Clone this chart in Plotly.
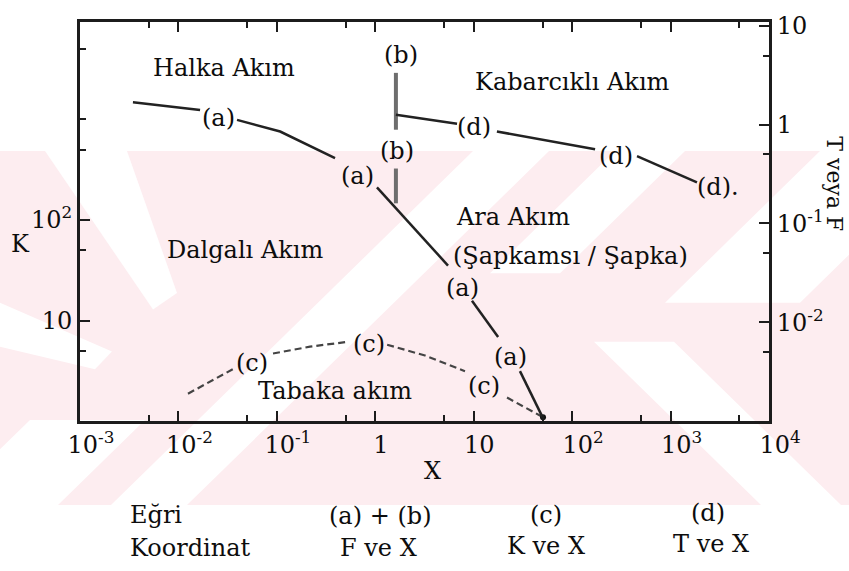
import numpy as np
import plotly.graph_objects as go

FONT = "DejaVu Serif"

# ---- boundary curves (None separates the pieces interrupted by the curve labels) ----
# (a) F vs X : stratified / annular & intermittent boundary
xa = [0.00345, 0.0166, None, 0.0394, 0.108, 0.39, None, 1.04, 5.48, None, 9.6, 17.7, None, 29.5, 50.6]
fa = [1.69, 1.41, None, 1.12, 0.853, 0.46, None, 0.232, 0.0375, None, 0.0165, 0.0071, None, 0.0032, 0.00107]

# (b) F vs X : vertical annular / intermittent boundary
xb = [1.62, 1.62, None, 1.62, 1.62]
fb = [3.35, 0.89, None, 0.36, 0.16]

# (c) K vs X : stratified smooth / stratified wavy boundary
xc = [0.0125, 0.0358, None, 0.0914, 0.217, 0.528, None, 1.32, 3.2, 8.15, None, 21.8, 50.6]
kc = [1.87, 3.28, None, 4.69, 5.49, 6.14, None, 5.74, 4.48, 3.13, None, 1.71, 1.09]

# (d) T vs X : intermittent / dispersed bubble boundary
xd = [1.62, 6.77, None, 17.2, 171, None, 456, 1855]
td = [1.26, 1.02, None, 0.853, 0.565, None, 0.482, 0.261]

# curve labels (X, value on the curve's own axis)
lab_a_x = [0.0258, 0.652, 7.78, 23.4]
lab_a_y = [1.17, 0.305, 0.0222, 0.0044]
lab_b_x = [1.82, 1.66]
lab_b_y = [5.05, 0.54]
lab_c_x = [0.0559, 0.863, 12.7]
lab_c_y = [3.75, 5.87, 2.24]
lab_d_x = [10.1, 279, 2761]
lab_d_y = [0.955, 0.482, 0.232]

# axis ticks
x_ticks = [1e-3, 1e-2, 1e-1, 1, 10, 1e2, 1e3, 1e4]
x_text = ["10<sup>-3</sup>", "10<sup>-2</sup>", "10<sup>-1</sup>", "1<sup>\u00a0\u00a0</sup>",
          "10<sup>\u00a0\u00a0</sup>", "10<sup>2</sup>", "10<sup>3</sup>", "10<sup>4</sup>"]
x_minor = [5e-3, 5e-2, 5e-1, 5, 50, 500, 5000]
k_ticks = [10, 100]
k_text = ["10", "10<sup>2</sup>"]
k_minor = [5, 50, 500, 1000, 5000]
tf_ticks = [0.01, 0.1, 1, 10]
tf_text = ["10<sup>-2</sup>", "10<sup>-1</sup>", "1", "10"]
tf_minor = [0.005, 0.05, 0.5, 5]

W, H = 849, 571
L, R, T, B = 80, 80, 13, 150
PW, PH = W - L - R, H - T - B


def px(x):
    return (x - L) / PW


def py(y):
    return (H - B - y) / PH


fig = go.Figure()

line_dark = "#222222"
fig.add_trace(go.Scatter(x=xa, y=fa, yaxis="y2", mode="lines",
                         line=dict(color=line_dark, width=2.5), connectgaps=False, hoverinfo="skip"))
fig.add_trace(go.Scatter(x=xb, y=fb, yaxis="y2", mode="lines",
                         line=dict(color="#6e6e6e", width=4), connectgaps=False, hoverinfo="skip"))
fig.add_trace(go.Scatter(x=xd, y=td, yaxis="y2", mode="lines",
                         line=dict(color=line_dark, width=2.5), connectgaps=False, hoverinfo="skip"))
fig.add_trace(go.Scatter(x=xc, y=kc, yaxis="y", mode="lines",
                         line=dict(color="#444444", width=2.2, dash="7px,4px"),
                         connectgaps=False, hoverinfo="skip"))
fig.add_trace(go.Scatter(x=[xc[-1]], y=[kc[-1]], yaxis="y", mode="markers",
                         marker=dict(color="#111111", size=6), hoverinfo="skip"))

ann = []
SZ = 24
tfont = dict(family=FONT, size=SZ, color="#0d0d0d")


def curve_label(text, x, y, yref, **kw):
    ann.append(dict(text=text, x=np.log10(x), y=np.log10(y), xref="x", yref=yref,
                    showarrow=False, font=tfont, **kw))


for x, y in zip(lab_a_x, lab_a_y):
    curve_label("(a)", x, y, "y2")
for x, y in zip(lab_b_x, lab_b_y):
    curve_label("(b)", x, y, "y2")
for x, y in zip(lab_c_x, lab_c_y):
    curve_label("(c)", x, y, "y")
for i, (x, y) in enumerate(zip(lab_d_x, lab_d_y)):
    if i == len(lab_d_x) - 1:
        curve_label("(d).", x, y, "y2", xshift=4)
    else:
        curve_label("(d)", x, y, "y2")


def page_text(text, x, y, anchor="center", angle=0, size=SZ):
    ann.append(dict(text=text, x=px(x), y=py(y), xref="paper", yref="paper",
                    xanchor=anchor, yanchor="middle", showarrow=False, textangle=angle,
                    font=dict(family=FONT, size=size, color="#0d0d0d")))


# flow regime names
page_text("Halka Akım", 224, 60)
page_text("Kabarcıklı Akım", 572, 74)
page_text("Dalgalı Akım", 245, 246)
page_text("Ara Akım", 454, 212, anchor="left")
page_text("(Şapkamsı / Şapka)", 451, 252, anchor="left")
page_text("Tabaka akım", 335, 390)

# axis titles
page_text("K", 20, 240)
page_text("X", 432, 472)
page_text("T veya F", 835, 178, angle=90, size=22)

# curve / coordinate key below the chart
page_text("Eğri", 128, 517, anchor="left")
page_text("Koordinat", 128, 551, anchor="left")
page_text("(a) + (b)", 380, 518)
page_text("F ve X", 378, 551)
page_text("(c)", 546, 517)
page_text("K ve X", 546, 549)
page_text("(d)", 708, 515)
page_text("T ve X", 711, 547)

# pale pink watermark strip behind the chart, broken by white diagonal bars
PINK = "#fdedf0"
shapes = [dict(type="rect", xref="paper", yref="paper", x0=px(0), x1=px(W), y0=py(507), y1=py(145),
               fillcolor=PINK, line=dict(width=0), layer="below")]


def poly(pts, color="white"):
    path = "M " + " L ".join(f"{px(a):.4f},{py(b):.4f}" for a, b in pts) + " Z"
    shapes.append(dict(type="path", path=path, xref="paper", yref="paper",
                       fillcolor=color, line=dict(width=0), layer="below"))


def band(kind, c0, c1, y0, y1):
    if kind == "\\":
        pts = [(c0 + y0, y0), (c1 + y0, y0), (c1 + y1, y1), (c0 + y1, y1)]
    else:
        pts = [(c0 - y0, y0), (c1 - y0, y0), (c1 - y1, y1), (c0 - y1, y1)]
    poly(pts)


poly([(45, 145), (127, 145), (177, 290), (153, 307)])
poly([(0, 300), (0, 345), (95, 368), (112, 350)])
band("/", 618, 694, 145, 507)
band("/", 450, 565, 420, 507)
band("\\", 254, 334, 340, 507)
band("/", 965, 1100, 145, 300)
band("/", 760, 830, 145, 270)
# keep the bars inside the strip
shapes.append(dict(type="rect", xref="paper", yref="paper", x0=px(0), x1=px(W), y0=py(H), y1=py(507),
                   fillcolor="white", line=dict(width=0), layer="below"))
shapes.append(dict(type="rect", xref="paper", yref="paper", x0=px(0), x1=px(W), y0=py(145), y1=py(0),
                   fillcolor="white", line=dict(width=0), layer="below"))

axis_line = "#1c1c1c"
tick_font = dict(family=FONT, size=SZ, color="#0d0d0d")

fig.update_layout(
    width=W, height=H,
    margin=dict(l=L, r=R, t=T, b=B),
    paper_bgcolor="white",
    plot_bgcolor="rgba(0,0,0,0)",
    showlegend=False,
    annotations=ann,
    shapes=shapes,
    font=dict(family=FONT),
    xaxis=dict(type="log", range=[-3, 4], tickvals=x_ticks, ticktext=x_text,
               ticks="inside", ticklen=10, tickwidth=2, tickcolor=axis_line,
               showline=True, linewidth=3, linecolor=axis_line, mirror="ticks",
               showgrid=False, zeroline=False, tickfont=tick_font, ticklabelshift=11,
               minor=dict(tickvals=x_minor, ticks="inside", ticklen=6, tickwidth=2,
                          tickcolor=axis_line, showgrid=False)),
    yaxis=dict(type="log", range=[0, 3.97], tickvals=k_ticks, ticktext=k_text,
               ticks="inside", ticklen=10, tickwidth=2, tickcolor=axis_line,
               showline=True, linewidth=3, linecolor=axis_line,
               showgrid=False, zeroline=False, tickfont=tick_font,
               minor=dict(tickvals=k_minor, ticks="inside", ticklen=6, tickwidth=2,
                          tickcolor=axis_line, showgrid=False)),
    yaxis2=dict(type="log", range=[-3, 1.04], overlaying="y", side="right",
                tickvals=tf_ticks, ticktext=tf_text,
                ticks="inside", ticklen=10, tickwidth=2, tickcolor=axis_line,
                showline=True, linewidth=3, linecolor=axis_line,
                showgrid=False, zeroline=False, tickfont=tick_font,
                minor=dict(tickvals=tf_minor, ticks="inside", ticklen=6, tickwidth=2,
                           tickcolor=axis_line, showgrid=False)),
)

fig.write_html("out.html")
